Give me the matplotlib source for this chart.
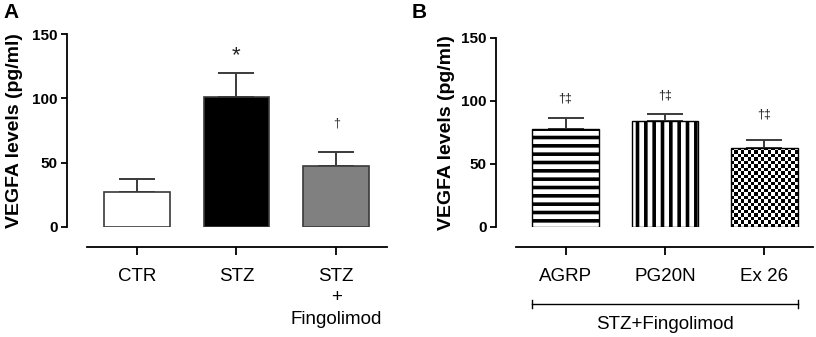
import numpy as np
import matplotlib
matplotlib.use("Agg")
import matplotlib.pyplot as plt
import matplotlib.transforms as mtransforms

plt.rcParams["font.family"] = ["Liberation Sans", "DejaVu Sans"]
plt.rcParams["hatch.linewidth"] = 2.6

# ---- data ----
groups_a = ["CTR", "STZ", "STZ\n+\nFingolimod"]
vegfa_a = [27.0, 101.3, 47.7]
err_a = [10.3, 18.4, 10.8]
marks_a = ["", "*", "\u2020"]
mark_y_a = [0, 133.0, 80.8]

groups_b = ["AGRP", "PG20N", "Ex 26"]
vegfa_b = [77.8, 83.6, 62.7]
err_b = [8.7, 5.8, 5.9]
marks_b = ["\u2020\u2021", "\u2020\u2021", "\u2020\u2021"]
mark_y_b = [101.4, 104.5, 89.4]

yticks = [0, 50, 100, 150]

EDGE = "#3a3a3a"
W, H = 816, 337
fig = plt.figure(figsize=(W / 100, H / 100), dpi=100)


def px_axes(left, right, top, bottom):
    return fig.add_axes([left / W, (H - bottom) / H, (right - left) / W, (bottom - top) / H])


def style_axes(ax, xmax, labels, ylabelpad):
    ax.set_ylim(0, 150)
    ax.set_xlim(-0.70, xmax)
    ax.set_yticks(yticks)
    ax.spines["top"].set_visible(False)
    ax.spines["right"].set_visible(False)
    ax.spines["left"].set_linewidth(1.3)
    ax.spines["bottom"].set_linewidth(1.3)
    ax.spines["bottom"].set_position(("outward", 14.4))
    ax.spines["bottom"].set_bounds(-0.5, xmax)
    ax.set_xticks(range(len(labels)))
    ax.set_xticklabels(labels, fontsize=13.5, linespacing=1.35, va="top")
    ax.tick_params(axis="x", direction="out", length=6, width=1.3, pad=9)
    ax.tick_params(axis="y", direction="out", length=4.5, width=1.3, pad=2,
                   labelsize=11)
    for t in ax.get_yticklabels():
        t.set_fontweight("bold")
    ax.set_ylabel("VEGFA levels (pg/ml)", fontsize=14, fontweight="bold",
                  labelpad=ylabelpad)


def add_marks(ax, marks, ys, size):
    for i, (m, y) in enumerate(zip(marks, ys)):
        if m:
            ax.text(i, y, m, ha="center", va="center", fontsize=size, color="#222222")


# ---------------- panel A ----------------
axa = px_axes(67, 387, 34, 227)
xa = np.arange(len(groups_a))
axa.bar(xa, vegfa_a, width=0.66, color=["white", "black", "#808080"],
        edgecolor=EDGE, linewidth=1.2, zorder=2)
axa.errorbar(xa, vegfa_a, yerr=[np.zeros(3), err_a], fmt="none", ecolor=EDGE,
             elinewidth=1.4, capsize=13, capthick=1.4, zorder=1)
style_axes(axa, 2.51, groups_a, 7)
add_marks(axa, marks_a[:2], mark_y_a[:2], 16)
axa.text(2, mark_y_a[2], marks_a[2], ha="center", va="center", fontsize=9, color="#333333")
fig.text(3 / W, 1 - 13 / H, "A", fontsize=15, fontweight="bold", va="center", ha="left")

# ---------------- panel B ----------------
axb = px_axes(496, 813, 37.7, 226.7)
xb = np.arange(len(groups_b))
bars = axb.bar(xb, vegfa_b, width=0.67, color=["white", "white", "none"],
               edgecolor="black", linewidth=1.0, zorder=3)
bars[0].set_hatch("--")
bars[1].set_hatch("||")
axb.errorbar(xb, vegfa_b, yerr=[np.zeros(3), err_b], fmt="none", ecolor=EDGE,
             elinewidth=1.4, capsize=13, capthick=1.4, zorder=1)
style_axes(axb, 2.49, groups_b, 5)

# checkerboard fill for Ex 26
cb = bars[2]
cell_px = 3.4
x0, y0 = cb.get_x(), cb.get_y()
x1, y1 = x0 + cb.get_width(), y0 + cb.get_height()
p0 = axb.transData.transform((x0, y0))
p1 = axb.transData.transform((x1, y1))
nx = int(round((p1[0] - p0[0]) / cell_px))
ny = int(round((p1[1] - p0[1]) / cell_px))
board = (np.add.outer(np.arange(ny), np.arange(nx)) % 2).astype(float)
im = axb.imshow(board, cmap="gray", extent=(x0, x1, y0, y1), aspect="auto",
                interpolation="nearest", origin="lower", zorder=2)
im.set_clip_path(cb)
axb.set_xlim(-0.70, 2.49)
axb.set_ylim(0, 150)

add_marks(axb, marks_b, mark_y_b, 9)

# bracket under category labels
trans = mtransforms.blended_transform_factory(axb.transData, axb.transAxes)
bl, br = -0.335, 2.335
axb.plot([bl, br], [-0.409, -0.409], color="black", lw=1.0, transform=trans, clip_on=False)
for xe in (bl, br):
    axb.plot([xe, xe], [-0.389, -0.429], color="black", lw=1.0, transform=trans, clip_on=False)
axb.text(1.0, -0.515, "STZ+Fingolimod", transform=trans, ha="center", va="center", fontsize=13.5)
fig.text(412 / W, 1 - 13 / H, "B", fontsize=15, fontweight="bold", va="center", ha="left")

fig.savefig("out.png", dpi=100)
